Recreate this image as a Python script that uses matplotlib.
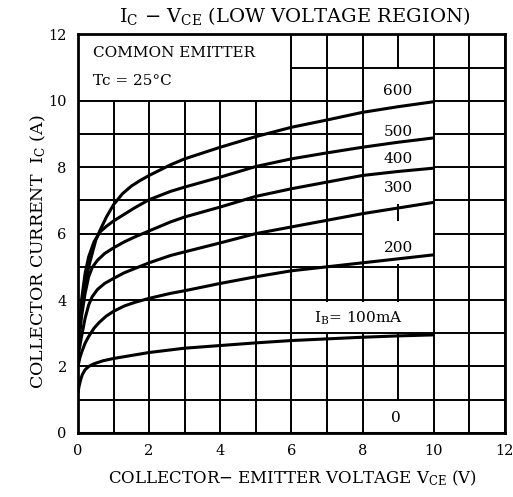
import matplotlib
matplotlib.use("Agg")
import matplotlib.pyplot as plt
from matplotlib.patches import Rectangle
import numpy as np

plt.rcParams['font.family'] = ['DejaVu Serif']
plt.rcParams['mathtext.fontset'] = 'dejavuserif'

# ---- data ----
vce_100 = [0, 0.03, 0.07, 0.12, 0.2, 0.3, 0.45, 0.7, 1, 1.5, 2, 3, 4, 5, 6, 7, 8, 9, 10]
ic_100 = [1.2, 1.4, 1.58, 1.75, 1.9, 2.0, 2.08, 2.17, 2.24, 2.33, 2.42, 2.55, 2.63, 2.71, 2.78, 2.83, 2.88, 2.92, 2.95]

vce_200 = [0, 0.05, 0.1, 0.2, 0.3, 0.45, 0.6, 0.8, 1, 1.3, 1.6, 2, 2.6, 3, 4, 5, 6, 7, 8, 9, 10]
ic_200 = [2.0, 2.25, 2.42, 2.7, 2.9, 3.15, 3.33, 3.52, 3.66, 3.82, 3.93, 4.05, 4.2, 4.28, 4.5, 4.7, 4.88, 5.0, 5.12, 5.24, 5.36]

vce_300 = [0, 0.05, 0.1, 0.2, 0.3, 0.4, 0.55, 0.75, 1, 1.3, 1.6, 2, 2.6, 3, 4, 5, 6, 7, 8, 9, 10]
ic_300 = [2.3, 2.6, 2.9, 3.45, 3.85, 4.1, 4.32, 4.5, 4.65, 4.82, 4.95, 5.12, 5.34, 5.45, 5.72, 6.0, 6.2, 6.4, 6.6, 6.77, 6.94]

vce_400 = [0, 0.05, 0.1, 0.2, 0.3, 0.4, 0.55, 0.75, 1, 1.3, 1.6, 2, 2.6, 3, 4, 5, 6, 7, 8, 9, 10]
ic_400 = [2.5, 3.0, 3.5, 4.2, 4.7, 4.98, 5.2, 5.4, 5.57, 5.75, 5.9, 6.08, 6.35, 6.5, 6.8, 7.12, 7.35, 7.55, 7.75, 7.87, 7.97]

vce_500 = [0, 0.05, 0.1, 0.2, 0.3, 0.45, 0.62, 0.8, 1, 1.3, 1.6, 2, 2.6, 3, 4, 5, 6, 7, 8, 9, 10]
ic_500 = [2.6, 3.3, 4.0, 4.8, 5.3, 5.75, 6.05, 6.22, 6.38, 6.58, 6.78, 7.02, 7.27, 7.4, 7.7, 8.02, 8.25, 8.43, 8.6, 8.75, 8.88]

vce_600 = [0, 0.05, 0.1, 0.15, 0.22, 0.3, 0.4, 0.5, 0.62, 0.8, 1, 1.25, 1.5, 1.75, 2, 2.6, 3, 4, 5, 6, 7, 8, 9, 10]
ic_600 = [2.7, 3.2, 3.7, 4.0, 4.5, 5.0, 5.4, 5.8, 6.1, 6.5, 6.87, 7.2, 7.43, 7.6, 7.75, 8.07, 8.25, 8.6, 8.92, 9.2, 9.42, 9.65, 9.82, 9.97]

vce_0 = [0, 10]
ic_0 = [0, 0]

curve_labels = ["600", "500", "400", "300", "200"]
label_y = [10.3, 9.07, 8.24, 7.36, 5.56]
tick_vals = [0, 2, 4, 6, 8, 10, 12]

fig = plt.figure(figsize=(5.13, 4.97), dpi=100)
ax = fig.add_axes([0.152, 0.129, 0.832, 0.802])
ax.set_xlim(0, 12)
ax.set_ylim(0, 12)
ax.set_xticks(tick_vals)
ax.set_yticks(tick_vals)
ax.set_xticks(np.arange(0, 13, 1), minor=True)
ax.set_yticks(np.arange(0, 13, 1), minor=True)
ax.set_axisbelow(True)
ax.grid(which='both', color='black', lw=1.4)
ax.tick_params(which='both', length=0, labelsize=10.5, pad=8)
for s in ax.spines.values():
    s.set_linewidth(2.0)

# white label areas (hide grid)
e = 0.03
boxes = [(0, 10, 6, 12), (8, 6.85, 10, 11), (8, 5.05, 10, 6.4),
         (6, 3.0, 10, 3.97), (8, 0, 10, 1)]
for (x0, y0, x1, y1) in boxes:
    ax.add_patch(Rectangle((x0 + e, y0 + e), x1 - x0 - 2 * e, y1 - y0 - 2 * e,
                           facecolor='white', edgecolor='none', zorder=1))

for xs, ys in [(vce_100, ic_100), (vce_200, ic_200), (vce_300, ic_300),
               (vce_400, ic_400), (vce_500, ic_500), (vce_600, ic_600), (vce_0, ic_0)]:
    ax.plot(xs, ys, color='black', lw=2.2, zorder=3, solid_capstyle='butt',
            solid_joinstyle='round')

for t, yy in zip(curve_labels, label_y):
    ax.text(9.0, yy, t, ha='center', va='center', fontsize=11, zorder=4)
ax.text(7.87, 3.45, r"I$_\mathregular{B}$= 100mA", ha='center', va='center', fontsize=11, zorder=4)
ax.text(8.95, 0.44, "0", ha='center', va='center', fontsize=11, zorder=4)
ax.text(0.42, 11.43, "COMMON EMITTER", ha='left', va='center', fontsize=11, zorder=4)
ax.text(0.42, 10.58, "Tc = 25°C", ha='left', va='center', fontsize=11, zorder=4)

fig.text(0.575, 0.968, r"I$_\mathregular{C}$ $-$ V$_\mathregular{CE}$ (LOW VOLTAGE REGION)",
         ha='center', va='center', fontsize=14)
fig.text(0.57, 0.038, r"COLLECTOR$-$ EMITTER VOLTAGE V$_\mathregular{CE}$ (V)",
         ha='center', va='center', fontsize=12)
fig.text(0.074, 0.493, r"COLLECTOR CURRENT  I$_\mathregular{C}$ (A)",
         ha='center', va='center', rotation=90, fontsize=12.5)

fig.savefig("out.png", dpi=100)
